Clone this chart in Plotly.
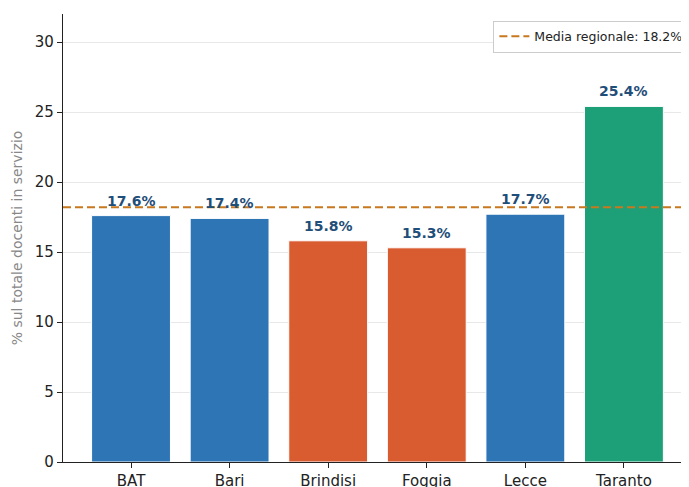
import plotly.graph_objects as go

province = ["BAT", "Bari", "Brindisi", "Foggia", "Lecce", "Taranto"]
quota = [17.6, 17.4, 15.8, 15.3, 17.7, 25.4]
colori = ["#2E75B6", "#2E75B6", "#D95B30", "#D95B30", "#2E75B6", "#1DA078"]
media_regionale = 18.2
y_ticks = [0, 5, 10, 15, 20, 25, 30]

x_pos = list(range(len(province)))
x_range = [-0.69, len(province) - 0.34]

fig = go.Figure()

fig.add_trace(
    go.Bar(
        x=x_pos,
        y=quota,
        width=0.8,
        marker=dict(color=colori, line=dict(color="white", width=1)),
        showlegend=False,
        hoverinfo="skip",
    )
)

fig.add_trace(
    go.Scatter(
        x=x_range,
        y=[media_regionale, media_regionale],
        mode="lines",
        line=dict(color="#C8781E", width=2, dash="8px,4px"),
        name=f"Media regionale: {media_regionale}%",
    )
)

for xi, v in zip(x_pos, quota):
    fig.add_annotation(
        x=xi,
        y=v,
        text=f"<b>{v}%</b>",
        showarrow=False,
        yanchor="bottom",
        yshift=5,
        font=dict(size=14, color="#1F4E79"),
    )

# la pagina html ha un margine di 8px: figura ridotta di conseguenza
fig.update_layout(
    width=681,
    height=479,
    margin=dict(l=55, r=0, t=6, b=25),
    plot_bgcolor="white",
    paper_bgcolor="white",
    font=dict(family="DejaVu Sans", size=14, color="#222"),
    legend=dict(
        x=0.999,
        y=0.985,
        xanchor="right",
        yanchor="top",
        bordercolor="#CCCCCC",
        borderwidth=1,
        bgcolor="white",
        font=dict(size=12.5),
    ),
    xaxis=dict(
        range=x_range,
        tickvals=x_pos,
        ticktext=province,
        showline=True,
        linecolor="#222",
        linewidth=1.2,
        ticks="outside",
        ticklen=5,
        tickcolor="#222",
        showgrid=False,
        zeroline=False,
        automargin=False,
        tickfont=dict(size=15),
    ),
    yaxis=dict(
        range=[0, 32],
        tickvals=y_ticks,
        showline=True,
        linecolor="#222",
        linewidth=1.2,
        ticks="outside",
        ticklen=5,
        tickcolor="#222",
        showgrid=True,
        gridcolor="#E8E8E8",
        zeroline=False,
        automargin=False,
        tickfont=dict(size=15),
        title=dict(
            text="% sul totale docenti in servizio",
            font=dict(size=14, color="#888888"),
            standoff=8,
        ),
    ),
)

fig.write_html("out.html")
